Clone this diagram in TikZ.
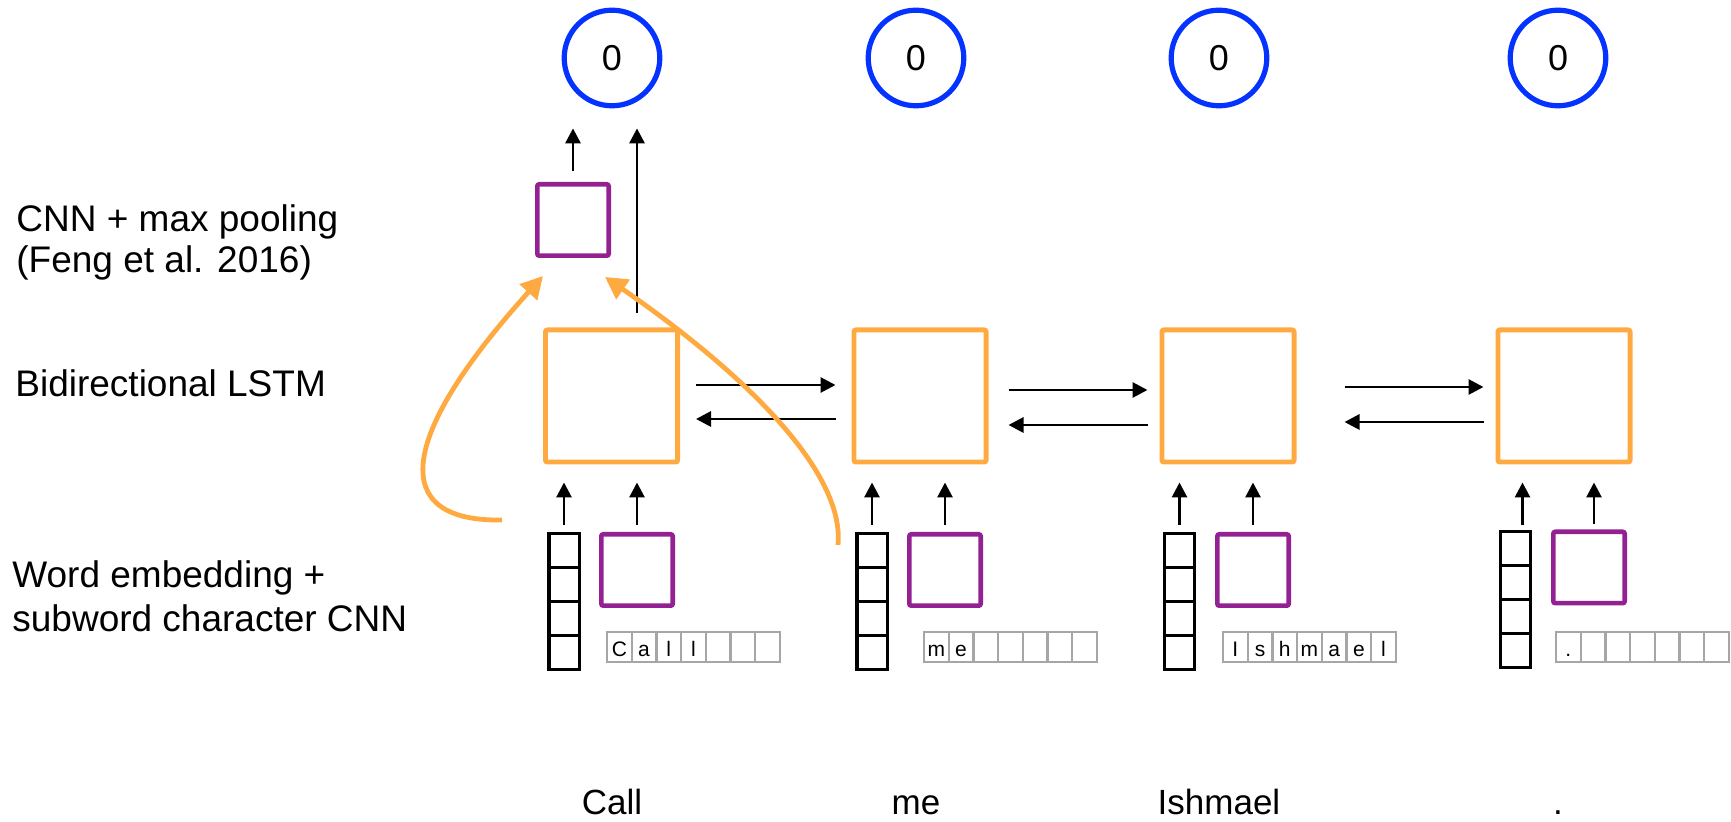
\documentclass[tikz,border=0pt]{standalone}
\usepackage{fontspec}
\setmainfont{Liberation Sans}
\usetikzlibrary{arrows.meta,calc}
\definecolor{lorange}{RGB}{255,170,65}
\definecolor{lpurple}{RGB}{148,33,146}
\definecolor{lblue}{RGB}{4,51,255}
\definecolor{lgray}{RGB}{166,166,166}
\tikzset{
 lstm/.style={draw=lorange, line width=2.4pt, rounded corners=1pt, minimum size=66.1pt, inner sep=0pt, fill=white},
 cnnbox/.style={draw=lpurple, line width=2.3pt, rounded corners=1pt, minimum size=35.7pt, inner sep=0pt, fill=white},
 outc/.style={circle, draw=lblue, line width=2.6pt, minimum size=47.8pt, inner sep=0pt, fill=white, font=\fontsize{18}{20}\selectfont},
 embcell/.style={draw=black, line width=1.7pt, minimum width=15.2pt, minimum height=17pt, inner sep=0pt},
 charcell/.style={draw=lgray, line width=1.1pt, minimum width=12.35pt, minimum height=15pt, inner sep=0pt, outer sep=0pt,
   text height=10pt, text depth=0pt, font=\fontsize{10.5}{12}\selectfont},
 arr/.style={-{Triangle[length=7.5pt,width=7.5pt]}, line width=1.45pt, black},
 orarr/.style={-{Triangle[length=11pt,width=11.5pt]}, line width=2.4pt, lorange},
 lab/.style={font=\fontsize{18.5}{22}\selectfont, anchor=base west, inner sep=0pt},
 wordlab/.style={font=\fontsize{17.5}{20}\selectfont, anchor=base, inner sep=0pt},
}
\newcommand\charrow[9]{%
 \node[charcell] (#1a) at ({#2+13.35},647) {#3};
 \node[charcell] (#1b) at ({#2+38.05},647) {#4};
 \node[charcell] (#1c) at ({#2+62.75},647) {#5};
 \node[charcell] (#1d) at ({#2+87.45},647) {#6};
 \node[charcell] (#1e) at ({#2+112.15},647) {#7};
 \node[charcell] (#1f) at ({#2+136.85},647) {#8};
 \node[charcell] (#1g) at ({#2+161.55},647) {#9};
}
\newcommand\embcol[3]{%
 \node[embcell] (#1a) at (#2,{#3+18.5}) {};
 \node[embcell] (#1b) at (#2,{#3+52.5}) {};
 \node[embcell] (#1c) at (#2,{#3+86.5}) {};
 \node[embcell] (#1d) at (#2,{#3+120.5}) {};
}
\begin{document}
\begin{tikzpicture}[x=0.5pt,y=-0.5pt]
\useasboundingbox (0,0) rectangle (1731,822);

% left labels
\node[lab] (labA1) at (16,232) {CNN + max pooling};
\node[lab] (labA2) at (16,273) {(Feng et al. 2016)};
\node[lab] (labB) at (15,397) {Bidirectional LSTM};
\node[lab] (labC1) at (12,588) {Word embedding +};
\node[lab] (labC2) at (12,632) {subword character CNN};

% output circles
\node[outc] (C1) at (612,58) {0};
\node[outc] (C2) at (916,58) {0};
\node[outc] (C3) at (1219,58) {0};
\node[outc] (C4) at (1558,58) {0};

% top CNN box
\node[cnnbox] (P0) at (573,220) {};

% LSTM boxes
\node[lstm] (L1) at (611.5,396) {};
\node[lstm] (L2) at (920,396) {};
\node[lstm] (L3) at (1228,396) {};
\node[lstm] (L4) at (1564,396) {};

% embeddings
\embcol{E1}{564}{532}
\embcol{E2}{872}{532}
\embcol{E3}{1179.5}{532}
\embcol{E4}{1515.5}{530}

% char CNN boxes
\node[cnnbox] (P1) at (637,570) {};
\node[cnnbox] (P2) at (945,570) {};
\node[cnnbox] (P3) at (1253,570) {};
\node[cnnbox] (P4) at (1589,567.5) {};

% character rows
\charrow{R1}{606}{C}{a}{l}{l}{}{}{}
\charrow{R2}{923}{m}{e}{}{}{}{}{}
\charrow{R3}{1222}{I}{s}{h}{m}{a}{e}{l}
\charrow{R4}{1555}{.}{}{}{}{}{}{}

% words
\node[wordlab] (W1) at (612,815) {Call};
\node[wordlab] (W2) at (916,815) {me};
\node[wordlab] (W3) at (1219,815) {Ishmael};
\node[wordlab] (W4) at (1558,815) {.};

% vertical arrows into LSTM
\foreach \e/\p/\l in {E1a/P1/L1,E2a/P2/L2,E3a/P3/L3}{
  \draw[arr, shorten <=3.5pt, shorten >=9pt] (\e.north) -- (\e.north |- \l.south);
  \draw[arr, shorten <=3.5pt, shorten >=9pt] (\p.north) -- (\p.north |- \l.south);
}
\draw[arr, shorten <=2.5pt, shorten >=9pt] ([xshift=3.5pt]E4a.north) -- ([xshift=3.5pt]E4a.north |- L4.south);
\draw[arr, shorten <=2.5pt, shorten >=9pt] ([xshift=2.5pt]P4.north) -- ([xshift=2.5pt]P4.north |- L4.south);

% horizontal LSTM arrows
\draw[arr, shorten <=8pt, shorten >=8pt] ($(L1.east)+(0,-11)$) -- ($(L2.west)+(0,-11)$);
\draw[arr, shorten <=8pt, shorten >=8pt] ($(L2.west)+(0,23)$) -- ($(L1.east)+(0,23)$);
\draw[arr, shorten <=10pt, shorten >=6pt] ($(L2.east)+(0,-6)$) -- ($(L3.west)+(0,-6)$);
\draw[arr, shorten <=6pt, shorten >=10pt] ($(L3.west)+(0,29)$) -- ($(L2.east)+(0,29)$);
\draw[arr, shorten <=24pt, shorten >=6pt] ($(L3.east)+(0,-9)$) -- ($(L4.west)+(0,-9)$);
\draw[arr, shorten <=6pt, shorten >=24pt] ($(L4.west)+(0,26)$) -- ($(L3.east)+(0,26)$);

% top arrows
\draw[arr, shorten <=5.5pt, shorten >=10pt] (P0.north) -- (P0.north |- C1.south);
\draw[arr, shorten <=7pt, shorten >=10pt] (P1.north |- L1.north) -- (P1.north |- C1.south);

% orange curved arrows
\coordinate (oa) at (502,520);
\coordinate (ob) at (838,545);
\draw[orarr] (oa) .. controls (390,522) and (395,440) .. ($(P0.south west)+(8,18)$);
\draw[orarr] (ob) .. controls (845,470) and (740,370) .. ($(P0.south east)+(-6,19)$);
\end{tikzpicture}
\end{document}
